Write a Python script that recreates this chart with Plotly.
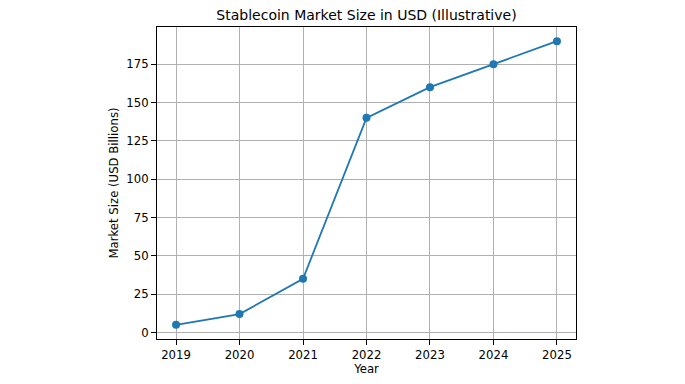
import plotly.graph_objects as go

years = [2019, 2020, 2021, 2022, 2023, 2024, 2025]
market_size = [5, 12, 35, 140, 160, 175, 190]
y_ticks = [0, 25, 50, 75, 100, 125, 150, 175]

fig = go.Figure()
fig.add_trace(go.Scatter(
    x=years, y=market_size, mode="lines+markers",
    line=dict(color="#1f77b4", width=1.8),
    marker=dict(color="#1f77b4", size=8),
))

axis_common = dict(
    showline=True, linecolor="black", linewidth=1, mirror=True,
    showgrid=True, gridcolor="#b0b0b0", gridwidth=1,
    ticks="outside", ticklen=5, tickcolor="black", tickwidth=1,
    zeroline=False,
    tickfont=dict(family="DejaVu Sans", size=11.7, color="black"),
)

fig.update_layout(
    width=677, height=376,
    margin=dict(l=149, r=109, t=19, b=45),
    paper_bgcolor="white", plot_bgcolor="white",
    showlegend=False,
    font=dict(family="DejaVu Sans", color="black"),
    title=dict(text="Stablecoin Market Size in USD (Illustrative)",
               xref="paper", x=0.5, xanchor="center",
               yref="container", y=1 - 7 / 376, yanchor="middle",
               font=dict(size=14, family="DejaVu Sans", color="black")),
    xaxis=dict(axis_common, range=[2018.7, 2025.3], tickvals=years,
               title=dict(text="Year", font=dict(size=11.7), standoff=3)),
    yaxis=dict(axis_common, range=[-4.25, 199.25], tickvals=y_ticks,
               title=dict(text="Market Size (USD Billions)", font=dict(size=11.7), standoff=5)),
)

fig.write_html("out.html")
